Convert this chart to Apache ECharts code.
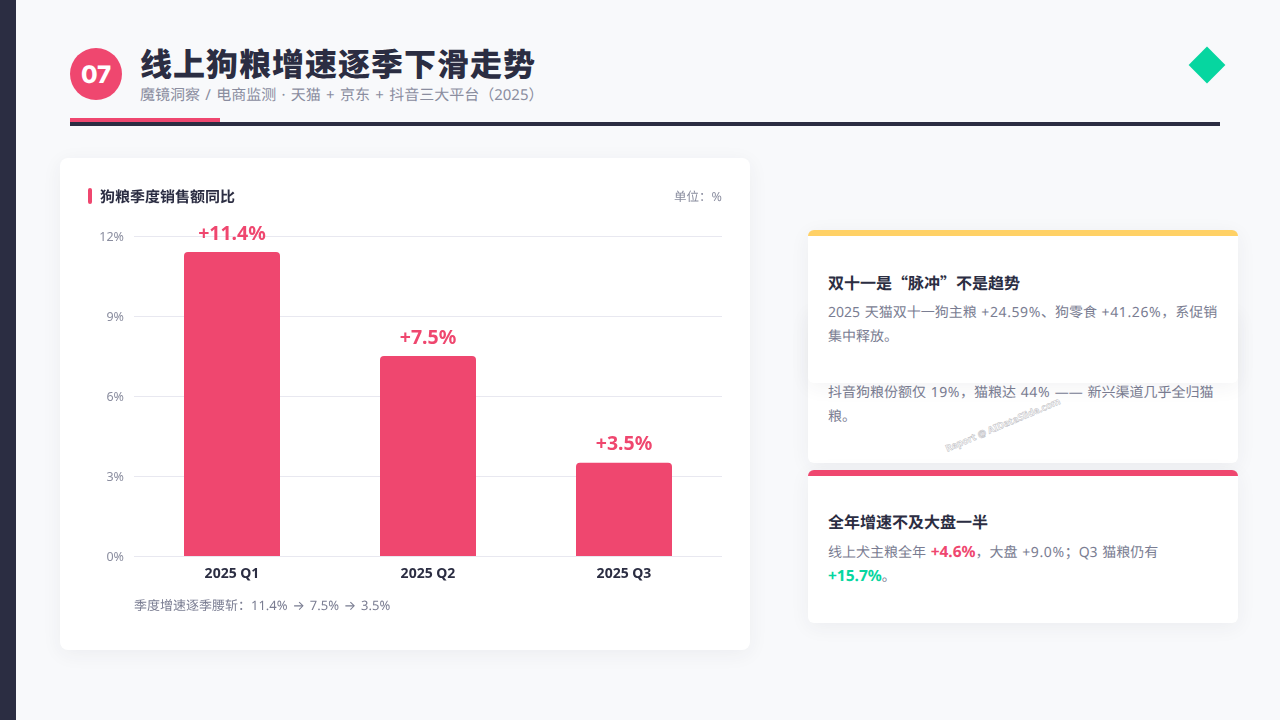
<!DOCTYPE html>
<html lang="zh-CN">
<head>
<meta charset="utf-8">
<title>线上狗粮增速逐季下滑走势</title>
<script src="https://cdn.jsdelivr.net/npm/echarts@6/dist/echarts.min.js"></script>
<style>
*{margin:0;padding:0;box-sizing:border-box}
html,body{width:1280px;height:720px;overflow:hidden}
body{position:relative;background:#f8f9fb;font-family:"Noto Sans","Noto Sans CJK SC",sans-serif;color:#2b2d42;text-rendering:geometricPrecision}
.abs{position:absolute}
.cjk{font-family:"Noto Sans CJK SC",sans-serif}
.arrow{font-family:Inter,sans-serif}
.n{letter-spacing:.6px}
.side{left:0;top:0;width:16px;height:720px;background:#2b2d42}
.num{left:70px;top:49px;width:52px;height:52px;border-radius:50%;color:#fff;font:800 24px/52px Inter,sans-serif;text-align:center}
.numbg{left:70px;top:48px;width:52px;height:52px;border-radius:50%;background:#ef476f}
h1{left:140px;top:42px;font-size:32px;line-height:46px;font-weight:900;letter-spacing:1px;white-space:nowrap}
.sub{left:140px;top:84px;font-size:15px;line-height:22px;color:#8a8d9f;white-space:nowrap;word-spacing:1.4px}
.rule{left:70px;top:122px;width:1150px;height:4px;background:#2b2d42}
.rule2{left:70px;top:118px;width:150px;height:4px;background:#ef476f}
.diamond{left:1194px;top:52px;width:26px;height:26px;background:#06d6a0;transform:rotate(45deg)}
.card{background:#fff;border-radius:6px;box-shadow:0 4px 20px rgba(43,45,66,.06)}
.chartcard{left:60px;top:158px;width:690px;height:492px;border-radius:8px}
#chart{left:60px;top:158px;width:690px;height:492px}
.mark{left:88px;top:188px;width:4px;height:16px;border-radius:2px;background:#ef476f}
.ct{left:100px;top:186px;font-size:15px;line-height:22px;font-weight:700;white-space:nowrap}
.unit{right:558px;top:187px;font-size:12.5px;line-height:20px;color:#8a8d9f;white-space:nowrap}
.cap{left:134px;top:595px;font-size:13px;line-height:20px;color:#7a7d92;white-space:nowrap;word-spacing:1.5px}
.side-card{left:808px;width:430px;height:153px;border-top:6px solid}
.side-card h3{position:absolute;left:20px;top:34px;font-size:16px;line-height:24px;font-weight:700;white-space:nowrap}
.side-card p{position:absolute;left:20px;top:65px;width:392px;font-size:14px;line-height:24px;color:#7a7d92;word-spacing:1px}
b.p{color:#ef476f;font-size:15.5px;line-height:1}
b.g{color:#06d6a0;font-size:15.5px;line-height:1}
.wm{left:936px;top:418px;width:134px;text-align:center;font-size:9.5px;line-height:14px;font-weight:700;color:#fff;white-space:nowrap;transform:rotate(-23deg);-webkit-text-stroke:.5px #bcbcc2}
</style>
</head>
<body>
<div class="abs side"></div>
<div class="abs numbg"></div>
<div class="abs num">07</div>
<h1 class="abs">线上狗粮增速逐季下滑走势</h1>
<div class="abs sub">魔镜洞察 / 电商监测 · 天猫 + 京东 + 抖音三大平台（2025）</div>
<div class="abs rule"></div>
<div class="abs rule2"></div>
<div class="abs diamond"></div>

<div class="abs card chartcard"></div>
<div class="abs" id="chart"></div>
<div class="abs mark"></div>
<div class="abs ct">狗粮季度销售额同比</div>
<div class="abs unit">单位：%</div>
<div class="abs cap">季度增速逐季腰斩：11.4% <span class="arrow">→</span> 7.5% <span class="arrow">→</span> 3.5%</div>

<div class="abs card side-card" style="top:310px;border-top-color:#06d6a0">
  <p>抖音狗粮份额仅 <span class="n">19%</span>，猫粮达 <span class="n">44%</span> —— 新兴渠道几乎全归猫粮。</p>
</div>
<div class="abs card side-card" style="top:230px;border-top-color:#ffd166">
  <h3>双十一是<span class="cjk">“</span>脉冲<span class="cjk">”</span>不是趋势</h3>
  <p>2025 天猫双十一狗主粮 <span class="n">+24.59%</span>、狗零食 <span class="n">+41.26%</span>，系促销集中释放。</p>
</div>
<div class="abs card side-card" style="top:470px;border-top-color:#ef476f">
  <h3>全年增速不及大盘一半</h3>
  <p>线上犬主粮全年 <b class="p">+4.6%</b>，大盘 <span class="n">+9.0%</span>；Q3 猫粮仍有 <b class="g">+15.7%</b>。</p>
</div>
<div class="abs wm">Report @ AIDataSlide.com</div>

<script>
var categories = ['2025 Q1', '2025 Q2', '2025 Q3'];
var yoyValues = [11.4, 7.5, 3.5];
var yMax = 12;
var yStep = 3;

var myChart = echarts.init(document.getElementById('chart'));
var option = {
    animation: false,
    textStyle: { fontFamily: '"Noto Sans","Noto Sans CJK SC",sans-serif' },
    grid: { left: 74, right: 28, top: 78, height: 320 },
    xAxis: {
        type: 'category',
        data: categories,
        axisLine: { show: false },
        axisTick: { show: false },
        axisLabel: { color: '#2b2d42', fontSize: 14, fontWeight: 'bold', margin: 11 }
    },
    yAxis: {
        type: 'value',
        min: 0,
        max: yMax,
        interval: yStep,
        axisLine: { show: false },
        axisTick: { show: false },
        axisLabel: {
            margin: 10,
            formatter: function (v) { return '{t|' + v + '%}'; },
            rich: { t: { color: '#8a8d9f', fontSize: 12.5, padding: [2, 0, 0, 0] } }
        },
        splitLine: { lineStyle: { color: '#e8e8f0', width: 1 } }
    },
    series: [{
        type: 'bar',
        data: yoyValues,
        barWidth: 96,
        itemStyle: { color: '#ef476f', borderRadius: [4, 4, 0, 0] },
        label: {
            show: true,
            position: 'top',
            distance: 8,
            color: '#ef476f',
            fontSize: 19.5,
            fontWeight: 'bold',
            formatter: function (p) { return '+' + p.value + '%'; }
        }
    }]
};
myChart.setOption(option);
</script>
</body>
</html>
